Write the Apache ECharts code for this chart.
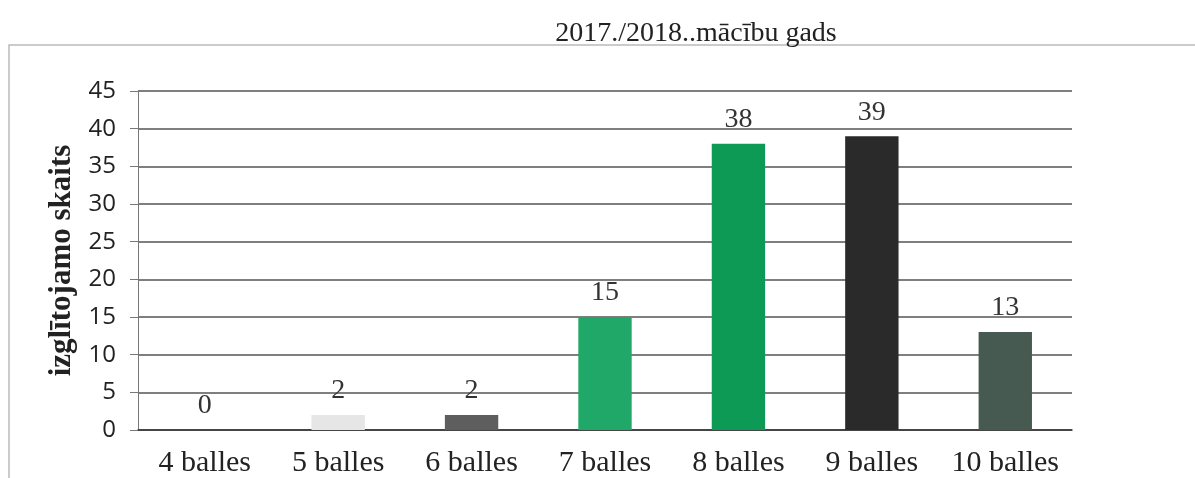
<!DOCTYPE html>
<html><head><meta charset="utf-8">
<script src="https://cdn.jsdelivr.net/npm/echarts@6/dist/echarts.min.js"></script>
<style>html,body{margin:0;padding:0;background:#fff}#c{width:1195px;height:478px}</style>
</head><body><div id="c"></div>
<script>
const categories = ['4 balles','5 balles','6 balles','7 balles','8 balles','9 balles','10 balles'];
const values = [0, 2, 2, 15, 38, 39, 13];
const barColors = ['#bfbfbf','#e6e6e6','#5e5e5e','#1fa867','#0d9a55','#2a2a2a','#475a52'];
const yTicks = [0,5,10,15,20,25,30,35,40,45];
const chartTitle = '2017./2018..mācību gads';
const yName = 'izglītojamo skaits';

const chart = echarts.init(document.getElementById('c'), null, {renderer:'canvas'});
chart.setOption({
  animation: false,
  backgroundColor: '#fff',
  title: {
    text: chartTitle, left: 691, top: 15, textAlign: 'center',
    textStyle: {fontFamily: 'Liberation Serif', fontSize: 28, fontWeight: 'normal', color: '#222'}
  },
  graphic: [{
    type: 'rect', shape: {x: 9, y: 45, width: 1200, height: 460},
    style: {fill: 'none', stroke: '#bbb', lineWidth: 1.5}, silent: true
  }],
  grid: {left: 138, right: 123, top: 91, bottom: 48, containLabel: false},
  xAxis: {
    type: 'category', data: categories,
    axisLine: {lineStyle: {color: '#333', width: 1.5}},
    axisTick: {show: false},
    axisLabel: {interval: 0, fontFamily: 'Liberation Serif', fontSize: 30, color: '#222', margin: 18}
  },
  yAxis: {
    type: 'value', min: yTicks[0], max: yTicks[yTicks.length-1], interval: 5,
    name: yName, nameLocation: 'middle', nameGap: 60, nameRotate: 90,
    nameTextStyle: {fontFamily: 'Liberation Serif', fontSize: 31, fontWeight: 'bold', color: '#222'},
    axisLine: {show: true, lineStyle: {color: '#777', width: 1}},
    axisTick: {show: true, length: 8, lineStyle: {color: '#777'}},
    axisLabel: {fontFamily: 'Open Sans', fontSize: 24, color: '#222', margin: 22},
    splitLine: {lineStyle: {color: '#555', width: 1.5}}
  },
  series: [{
    type: 'bar', barWidth: '40%',
    data: values.map((v,i)=>({value: v, itemStyle: {color: barColors[i]}})),
    label: {show: true, position: 'top', distance: 10,
      fontFamily: 'Liberation Serif', fontSize: 28, color: '#333'}
  }]
});
</script></body></html>
